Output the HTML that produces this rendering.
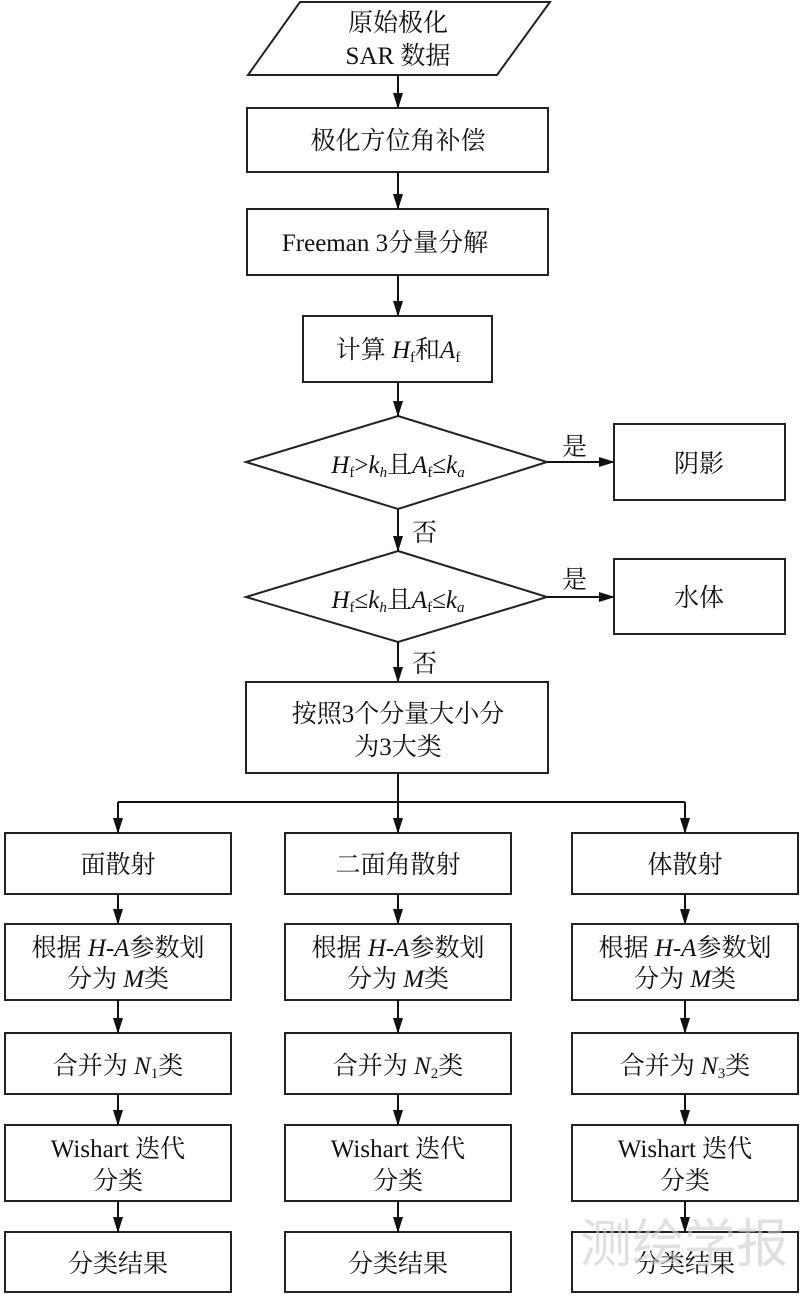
<!DOCTYPE html>
<html><head><meta charset="utf-8"><style>
body{margin:0;background:#fff}
svg text{font-family:"Liberation Serif","Noto Serif CJK SC",serif;font-size:25px;fill:#111}
.i{font-style:italic}
</style></head><body>
<svg width="800" height="1294" viewBox="0 0 800 1294" xmlns="http://www.w3.org/2000/svg">
<defs><marker id="a" markerWidth="10" markerHeight="10" refX="9" refY="5" orient="auto" markerUnits="userSpaceOnUse"><path d="M0,0 L10,5 L0,10 z" fill="#111"/></marker>
<marker id="b" markerWidth="16" markerHeight="10" refX="15" refY="5" orient="auto" markerUnits="userSpaceOnUse"><path d="M0,0 L16,5 L0,10 z" fill="#111"/></marker></defs>
<g stroke="#222" stroke-width="2" fill="none">
<polygon points="300,2 550,2 497,75 248,75"/>
<rect x="247" y="108" width="301" height="64"/>
<rect x="247" y="209" width="301" height="66"/>
<rect x="303" y="316" width="189" height="66"/>
<polygon points="398,416 547,462 398,509 246,462"/>
<rect x="614" y="424" width="171" height="76"/>
<polygon points="398,551 547,597 398,642 246,597"/>
<rect x="614" y="559" width="171" height="75"/>
<rect x="246" y="682" width="302" height="91"/>
</g>
<g stroke="#111" stroke-width="2" fill="none">
<line x1="398" y1="75" x2="398" y2="108" marker-end="url(#b)"/>
<line x1="398" y1="172" x2="398" y2="209" marker-end="url(#b)"/>
<line x1="398" y1="275" x2="398" y2="316" marker-end="url(#b)"/>
<line x1="398" y1="382" x2="398" y2="416" marker-end="url(#b)"/>
<line x1="398" y1="509" x2="398" y2="551" marker-end="url(#b)"/>
<line x1="398" y1="642" x2="398" y2="682" marker-end="url(#b)"/>
<line x1="547" y1="462" x2="614" y2="462" marker-end="url(#b)"/>
<line x1="547" y1="597" x2="614" y2="597" marker-end="url(#b)"/>
<line x1="398" y1="773" x2="398" y2="802"/>
<line x1="118" y1="802" x2="685" y2="802"/>
</g>
<g id="c">
<g stroke="#222" stroke-width="2" fill="none">
<rect x="5" y="833" width="226" height="61"/>
<rect x="5" y="924" width="226" height="76"/>
<rect x="5" y="1033" width="226" height="61"/>
<rect x="5" y="1125" width="226" height="76"/>
<rect x="5" y="1232" width="226" height="60"/>
</g>
<g stroke="#111" stroke-width="2" fill="none">
<line x1="118" y1="802" x2="118" y2="833" marker-end="url(#b)"/>
<line x1="118" y1="894" x2="118" y2="924" marker-end="url(#b)"/>
<line x1="118" y1="1000" x2="118" y2="1033" marker-end="url(#b)"/>
<line x1="118" y1="1094" x2="118" y2="1125" marker-end="url(#b)"/>
<line x1="118" y1="1201" x2="118" y2="1232" marker-end="url(#b)"/>
</g>
<g text-anchor="middle">
<text x="118" y="956">根据 <tspan class="i">H</tspan>-<tspan class="i">A</tspan>参数划</text>
<text x="118" y="987">分为 <tspan class="i">M</tspan>类</text>
<text x="118" y="1157">Wishart 迭代</text>
<text x="118" y="1189">分类</text>
<text x="118" y="1272">分类结果</text>
</g>
</g>
<use href="#c" x="280"/>
<use href="#c" x="567"/>
<g text-anchor="middle">
<text x="398" y="31">原始极化</text>
<text x="398" y="64">SAR 数据</text>
<text x="398" y="149">极化方位角补偿</text>
<text x="385" y="251">Freeman 3分量分解</text>
<text x="398" y="358">计算 <tspan class="i">H</tspan><tspan font-size="15" dy="4">f</tspan><tspan dy="-4">和</tspan><tspan class="i">A</tspan><tspan font-size="15" dy="4">f</tspan></text>
<text x="398" y="473"><tspan class="i">H</tspan><tspan font-size="15" dy="4">f</tspan><tspan dy="-4">&gt;</tspan><tspan class="i">k</tspan><tspan class="i" font-size="15" dy="4">h</tspan><tspan dy="-4">且</tspan><tspan class="i">A</tspan><tspan font-size="15" dy="4">f</tspan><tspan dy="-4">≤</tspan><tspan class="i">k</tspan><tspan class="i" font-size="15" dy="4">a</tspan></text>
<text x="398" y="608"><tspan class="i">H</tspan><tspan font-size="15" dy="4">f</tspan><tspan dy="-4">≤</tspan><tspan class="i">k</tspan><tspan class="i" font-size="15" dy="4">h</tspan><tspan dy="-4">且</tspan><tspan class="i">A</tspan><tspan font-size="15" dy="4">f</tspan><tspan dy="-4">≤</tspan><tspan class="i">k</tspan><tspan class="i" font-size="15" dy="4">a</tspan></text>
<text x="699" y="472">阴影</text>
<text x="699" y="606">水体</text>
<text x="398" y="722">按照3个分量大小分</text>
<text x="398" y="755">为3大类</text>
<text x="118" y="873">面散射</text>
<text x="398" y="873">二面角散射</text>
<text x="685" y="873">体散射</text>
<text x="118" y="1074">合并为 <tspan class="i">N</tspan><tspan font-size="15" dy="4">1</tspan><tspan dy="-4">类</tspan></text>
<text x="398" y="1074">合并为 <tspan class="i">N</tspan><tspan font-size="15" dy="4">2</tspan><tspan dy="-4">类</tspan></text>
<text x="685" y="1074">合并为 <tspan class="i">N</tspan><tspan font-size="15" dy="4">3</tspan><tspan dy="-4">类</tspan></text>
</g>
<text x="562" y="455">是</text>
<text x="562" y="588">是</text>
<text x="412" y="541">否</text>
<text x="412" y="672">否</text>
<text x="580" y="1262" style="font-family:'Noto Sans CJK SC',sans-serif;font-size:52px;fill:#ccc;opacity:.6">测绘学报</text>
</svg>
</body></html>
